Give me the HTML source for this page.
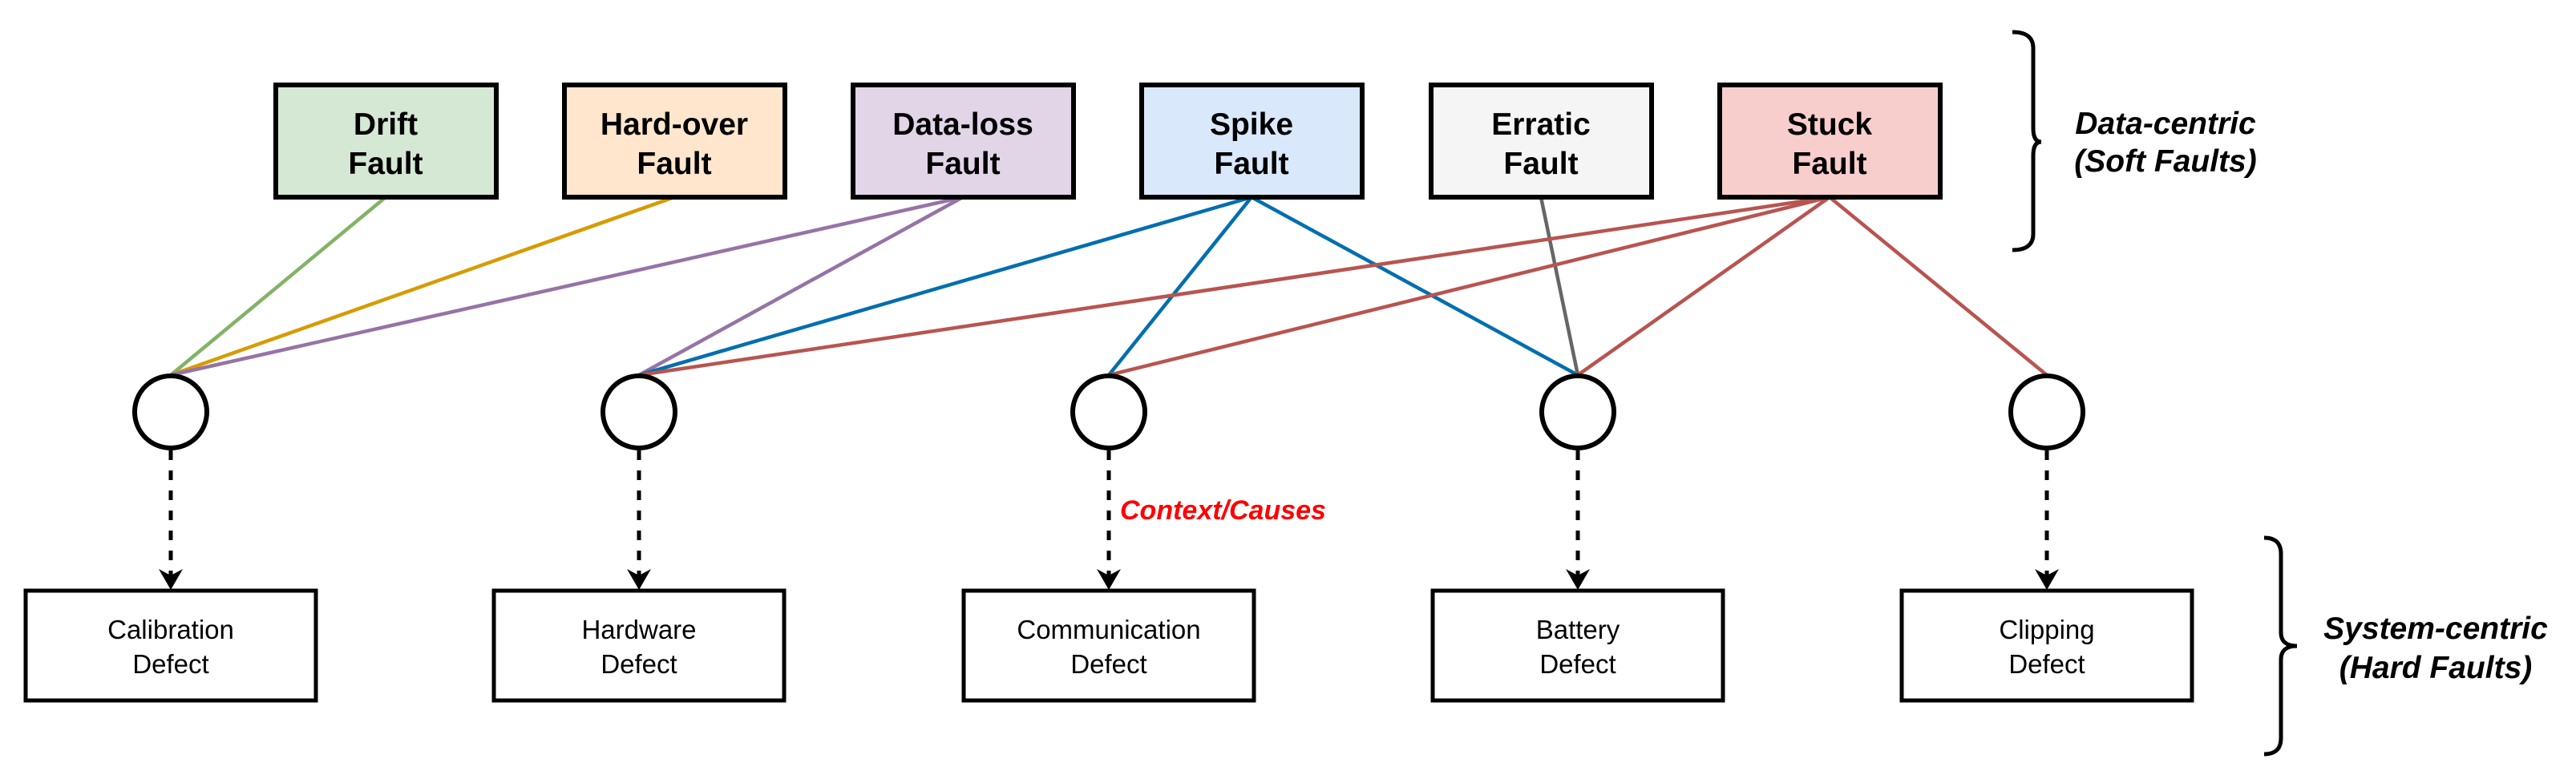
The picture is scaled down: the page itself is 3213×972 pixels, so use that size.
<!DOCTYPE html>
<html><head><meta charset="utf-8"><style>
html,body{margin:0;padding:0;background:#fff}
svg{display:block}
text{font-family:"Liberation Sans",Arial,sans-serif}
</style></head><body>
<svg width="3213" height="972" viewBox="0 0 3213 972" xmlns="http://www.w3.org/2000/svg">
<!-- connectors -->
<g stroke-width="4.5" fill="none">
<line x1="481" y1="246" x2="213" y2="468" stroke="#82b366"/>
<line x1="841" y1="246" x2="213" y2="468" stroke="#d79b00"/>
<line x1="1201" y1="246" x2="213" y2="468" stroke="#9673a6"/>
<line x1="1201" y1="246" x2="797" y2="468" stroke="#9673a6"/>
<line x1="1561" y1="246" x2="797" y2="468" stroke="#006eaf"/>
<line x1="1561" y1="246" x2="1383" y2="468" stroke="#006eaf"/>
<line x1="1561" y1="246" x2="1968" y2="468" stroke="#006eaf"/>
<line x1="1922" y1="246" x2="1968" y2="468" stroke="#666666"/>
<line x1="2282" y1="246" x2="797" y2="468" stroke="#b85450"/>
<line x1="2282" y1="246" x2="1383" y2="468" stroke="#b85450"/>
<line x1="2282" y1="246" x2="1968" y2="468" stroke="#b85450"/>
<line x1="2282" y1="246" x2="2553" y2="468" stroke="#b85450"/>
</g>
<!-- top boxes -->
<g stroke="#000" stroke-width="6">
<rect x="344" y="106" width="275" height="140" fill="#d5e8d4"/>
<rect x="704" y="106" width="275" height="140" fill="#ffe6cc"/>
<rect x="1064" y="106" width="275" height="140" fill="#e1d5e7"/>
<rect x="1424" y="106" width="275" height="140" fill="#dae8fc"/>
<rect x="1785" y="106" width="275" height="140" fill="#f5f5f5"/>
<rect x="2145" y="106" width="275" height="140" fill="#f8cecc"/>
</g>
<g font-size="39" font-weight="bold" text-anchor="middle" fill="#000">
<text x="481" y="168">Drift</text><text x="481" y="217">Fault</text>
<text x="841" y="168">Hard-over</text><text x="841" y="217">Fault</text>
<text x="1201" y="168">Data-loss</text><text x="1201" y="217">Fault</text>
<text x="1561" y="168">Spike</text><text x="1561" y="217">Fault</text>
<text x="1922" y="168">Erratic</text><text x="1922" y="217">Fault</text>
<text x="2282" y="168">Stuck</text><text x="2282" y="217">Fault</text>
</g>
<!-- circles -->
<g fill="#fff" stroke="#000" stroke-width="6">
<circle cx="213" cy="514" r="45"/>
<circle cx="797" cy="514" r="45"/>
<circle cx="1383" cy="514" r="45"/>
<circle cx="1968" cy="514" r="45"/>
<circle cx="2553" cy="514" r="45"/>
</g>
<!-- dashed arrows -->
<g stroke="#000" stroke-width="5" stroke-dasharray="12 13">
<line x1="213" y1="562" x2="213" y2="718"/>
<line x1="797" y1="562" x2="797" y2="718"/>
<line x1="1383" y1="562" x2="1383" y2="718"/>
<line x1="1968" y1="562" x2="1968" y2="718"/>
<line x1="2553" y1="562" x2="2553" y2="718"/>
</g>
<g fill="#000">
<path d="M198,710 L213,718 L228,710 L213,736 Z"/>
<path d="M782,710 L797,718 L812,710 L797,736 Z"/>
<path d="M1368,710 L1383,718 L1398,710 L1383,736 Z"/>
<path d="M1953,710 L1968,718 L1983,710 L1968,736 Z"/>
<path d="M2538,710 L2553,718 L2568,710 L2553,736 Z"/>
</g>
<text x="1397" y="648" font-size="34" font-weight="bold" font-style="italic" fill="#ff0000">Context/Causes</text>
<!-- bottom boxes -->
<g fill="#fff" stroke="#000" stroke-width="5">
<rect x="32" y="737" width="362" height="137"/>
<rect x="616" y="737" width="362" height="137"/>
<rect x="1202" y="737" width="362" height="137"/>
<rect x="1787" y="737" width="362" height="137"/>
<rect x="2372" y="737" width="362" height="137"/>
</g>
<g font-size="33" text-anchor="middle" fill="#000">
<text x="213" y="797">Calibration</text><text x="213" y="840">Defect</text>
<text x="797" y="797">Hardware</text><text x="797" y="840">Defect</text>
<text x="1383" y="797">Communication</text><text x="1383" y="840">Defect</text>
<text x="1968" y="797">Battery</text><text x="1968" y="840">Defect</text>
<text x="2553" y="797">Clipping</text><text x="2553" y="840">Defect</text>
</g>
<!-- braces -->
<g fill="none" stroke="#000" stroke-width="5">
<path d="M2510,40 Q2536,40 2536,60 L2536,160 Q2536,177 2546,177 Q2536,177 2536,194 L2536,292 Q2536,312 2510,312"/>
<path d="M2824,671 Q2845,671 2845,691 L2845,789 Q2845,806 2865,806 Q2845,806 2845,823 L2845,921 Q2845,941 2824,941"/>
</g>
<g font-size="39" font-weight="bold" font-style="italic" text-anchor="middle" fill="#000">
<text x="2701" y="167">Data-centric</text><text x="2701" y="214">(Soft Faults)</text>
<text x="3038" y="797">System-centric</text><text x="3038" y="846">(Hard Faults)</text>
</g>
</svg>
</body></html>
